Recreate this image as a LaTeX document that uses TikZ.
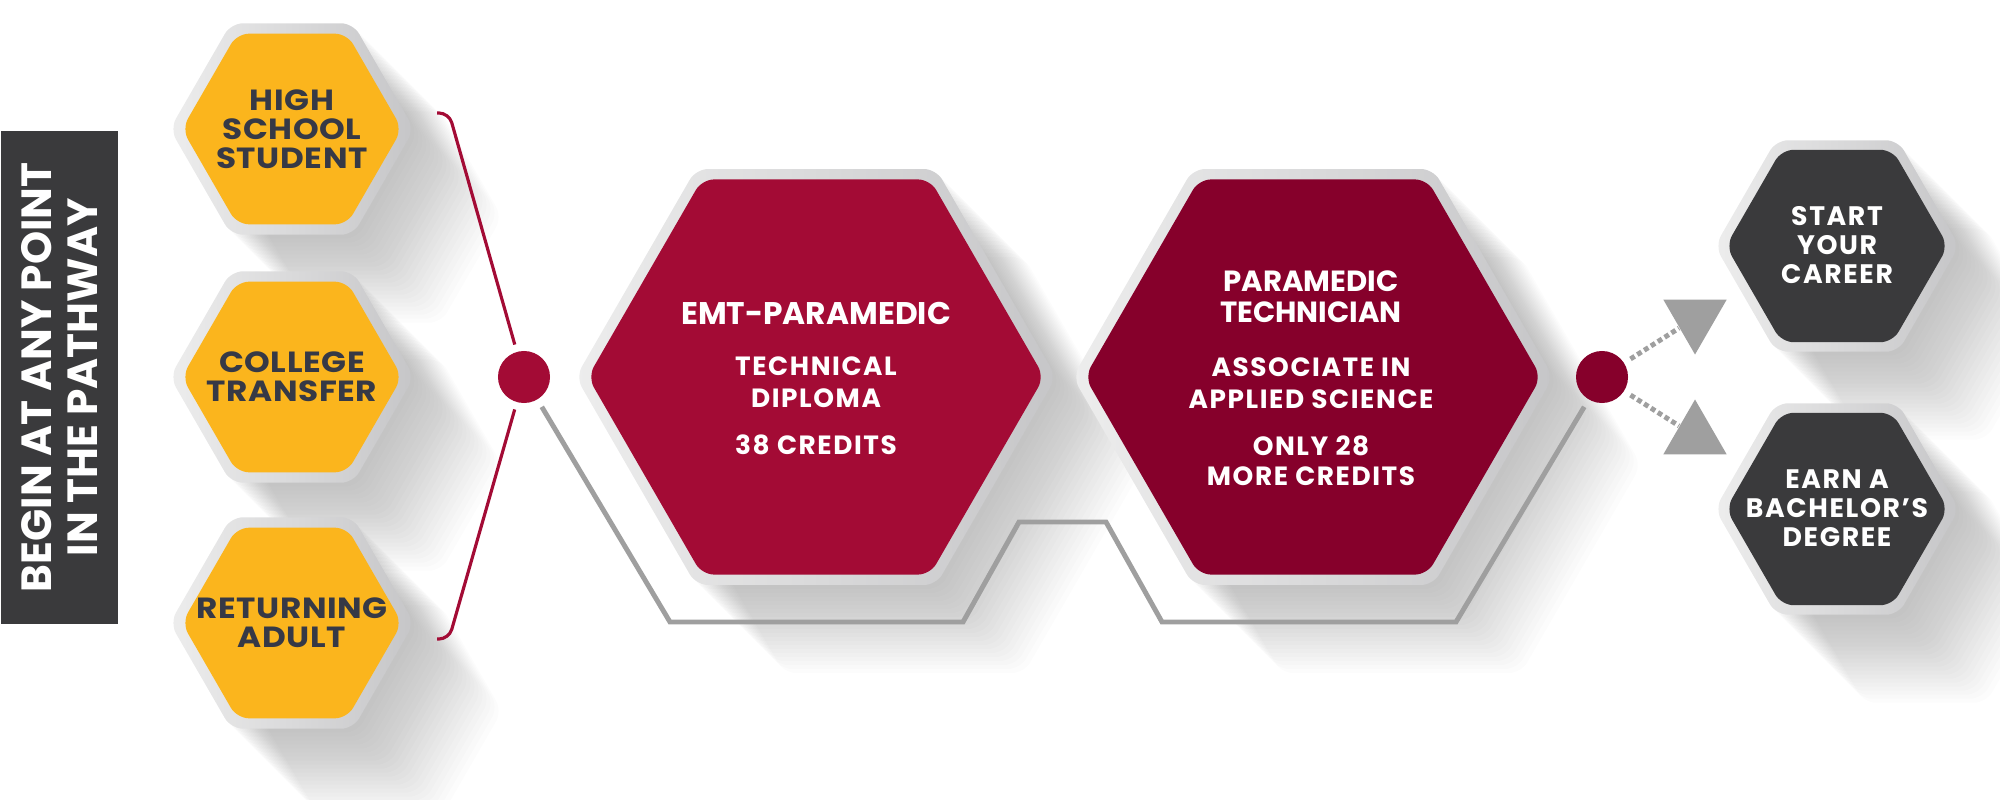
\documentclass[tikz,border=0pt]{standalone}
\usepackage{fontspec}
\setmainfont{Poppins}
\newfontfamily\wideFont{Poppins}[FakeStretch=1.12,LetterSpace=2]
\newfontfamily\trackFont{Poppins}[LetterSpace=6]
\usetikzlibrary{shapes.geometric}
\definecolor{hexYellow}{HTML}{FBB51D}
\definecolor{hexRed}{HTML}{A30B35}
\definecolor{hexWine}{HTML}{86002B}
\definecolor{hexDark}{HTML}{3A3A3C}
\definecolor{textDark}{HTML}{363946}
\definecolor{frameLight}{HTML}{EDEDED}
\definecolor{frameDark}{HTML}{C6C6C8}
\colorlet{lineGray}{gray!75}
\tikzset{
  hexBase/.style={regular polygon,regular polygon sides=6,inner sep=0pt,rounded corners=0.12cm},
  hexFrame/.style={hexBase,minimum size=#1,left color=frameLight,right color=frameDark},
  hexFill/.style={hexBase,fill=#1},
  hexShadow/.style={hexBase,minimum size=#1,fill=black,fill opacity=.013},
  dotNode/.style={circle,inner sep=0pt,minimum size=0.52cm,fill=#1},
  yellowText/.style={text=textDark,align=center,font=\wideFont\bfseries\fontsize{8.3}{8.25}\selectfont},
  redTitle/.style={text=white,align=center,font=\bfseries\fontsize{8.9}{8.8}\selectfont},
  redSub/.style={text=white,align=center,font=\trackFont\bfseries\fontsize{7.5}{9.2}\selectfont},
  darkText/.style={text=white,align=center,font=\trackFont\bfseries\fontsize{7.6}{8.25}\selectfont}
}

\begin{document}
\begin{tikzpicture}[x=0.01cm,y=-0.01cm]
\useasboundingbox (0,0) rectangle (2000,800);

\foreach \x/\y/\s in {292/129/2.44,292/377/2.44,292/623/2.44,816/377/4.8,1313/377/4.8,1837/246/2.44,1837/509/2.44}
  \foreach \k in {1,...,22}
    \node[hexShadow=\s cm] (shadow\x-\y-\k) at (\x+\k*4,\y+\k*4) {};

\node[fill=hexDark,inner sep=0pt,minimum width=1.17cm,minimum height=4.93cm,anchor=north west] (titleBox) at (0,130) {};
\node[rotate=90,text=white,align=center,font=\bfseries\fontsize{12}{13.1}\selectfont] (titleText) at (titleBox) {BEGIN AT ANY POINT\\IN THE PATHWAY};

\node[dotNode=hexRed] (dotA) at (524,377) {};
\node[dotNode=hexWine] (dotB) at (1602,377) {};
\coordinate (brTop) at (437,113);
\coordinate (brBot) at (437,639);
\draw[hexRed,line width=0.9pt,rounded corners=0.1cm,shorten >=0.07cm] (brTop) -- (449,113) -- (dotA);
\draw[hexRed,line width=0.9pt,rounded corners=0.1cm,shorten >=0.07cm] (brBot) -- (449,639) -- (dotA);
\draw[lineGray,line width=1.4pt,shorten <=0.08cm,shorten >=0.08cm] (dotA) -- (670,622) -- (963,622) -- (1019,522) -- (1106,522) -- (1162,622) -- (1456,622) -- (dotB);

\node[regular polygon,regular polygon sides=3,shape border rotate=180,fill=lineGray,inner sep=0pt,minimum size=0.73cm] (triTop) at (1695,318) {};
\node[regular polygon,regular polygon sides=3,fill=lineGray,inner sep=0pt,minimum size=0.73cm] (triBottom) at (1695,436) {};
\draw[lineGray,line width=1.4pt,dash pattern=on 1.4pt off 0.9pt,shorten <=0.07cm] (dotB) -- (triTop);
\draw[lineGray,line width=1.4pt,dash pattern=on 1.4pt off 0.9pt,shorten <=0.07cm] (dotB) -- (triBottom);

\node[hexFrame=2.44cm] (highFrame) at (292,129) {};
\node[hexFill=hexYellow,minimum size=2.2cm] (high) at (292,129) {};
\node[hexFrame=2.44cm] (collegeFrame) at (292,377) {};
\node[hexFill=hexYellow,minimum size=2.2cm] (college) at (292,377) {};
\node[hexFrame=2.44cm] (adultFrame) at (292,623) {};
\node[hexFill=hexYellow,minimum size=2.2cm] (adult) at (292,623) {};
\node[hexFrame=4.8cm] (emtFrame) at (816,377) {};
\node[hexFill=hexRed,minimum size=4.56cm] (emt) at (816,377) {};
\node[hexFrame=4.8cm] (techFrame) at (1313,377) {};
\node[hexFill=hexWine,minimum size=4.56cm] (tech) at (1313,377) {};
\node[hexFrame=2.44cm] (careerFrame) at (1837,246) {};
\node[hexFill=hexDark,minimum size=2.22cm] (career) at (1837,246) {};
\node[hexFrame=2.44cm] (degreeFrame) at (1837,509) {};
\node[hexFill=hexDark,minimum size=2.22cm] (degree) at (1837,509) {};

\node[yellowText] (highText) at (292,129) {HIGH\\SCHOOL\\STUDENT};
\node[yellowText] (collegeText) at (292,377) {COLLEGE\\TRANSFER};
\node[yellowText] (adultText) at (292,623) {RETURNING\\ADULT};
\node[redTitle] (emtTitle) at (816,313) {EMT-PARAMEDIC};
\node[redSub] (emtDegree) at (816,382) {TECHNICAL\\DIPLOMA};
\node[redSub] (emtCredits) at (816,445) {38 CREDITS};
\node[redTitle,font=\bfseries\fontsize{8.3}{8.8}\selectfont] (techTitle) at (1311,297) {PARAMEDIC\\TECHNICIAN};
\node[redSub] (techDegree) at (1311,383) {ASSOCIATE IN\\APPLIED SCIENCE};
\node[redSub,font=\trackFont\bfseries\fontsize{7.5}{8.5}\selectfont] (techCredits) at (1311,461) {ONLY 28\\MORE CREDITS};
\node[darkText] (careerText) at (1837,245) {START\\YOUR\\CAREER};
\node[darkText] (degreeText) at (1837,508) {EARN A\\BACHELOR’S\\DEGREE};
\end{tikzpicture}
\end{document}
